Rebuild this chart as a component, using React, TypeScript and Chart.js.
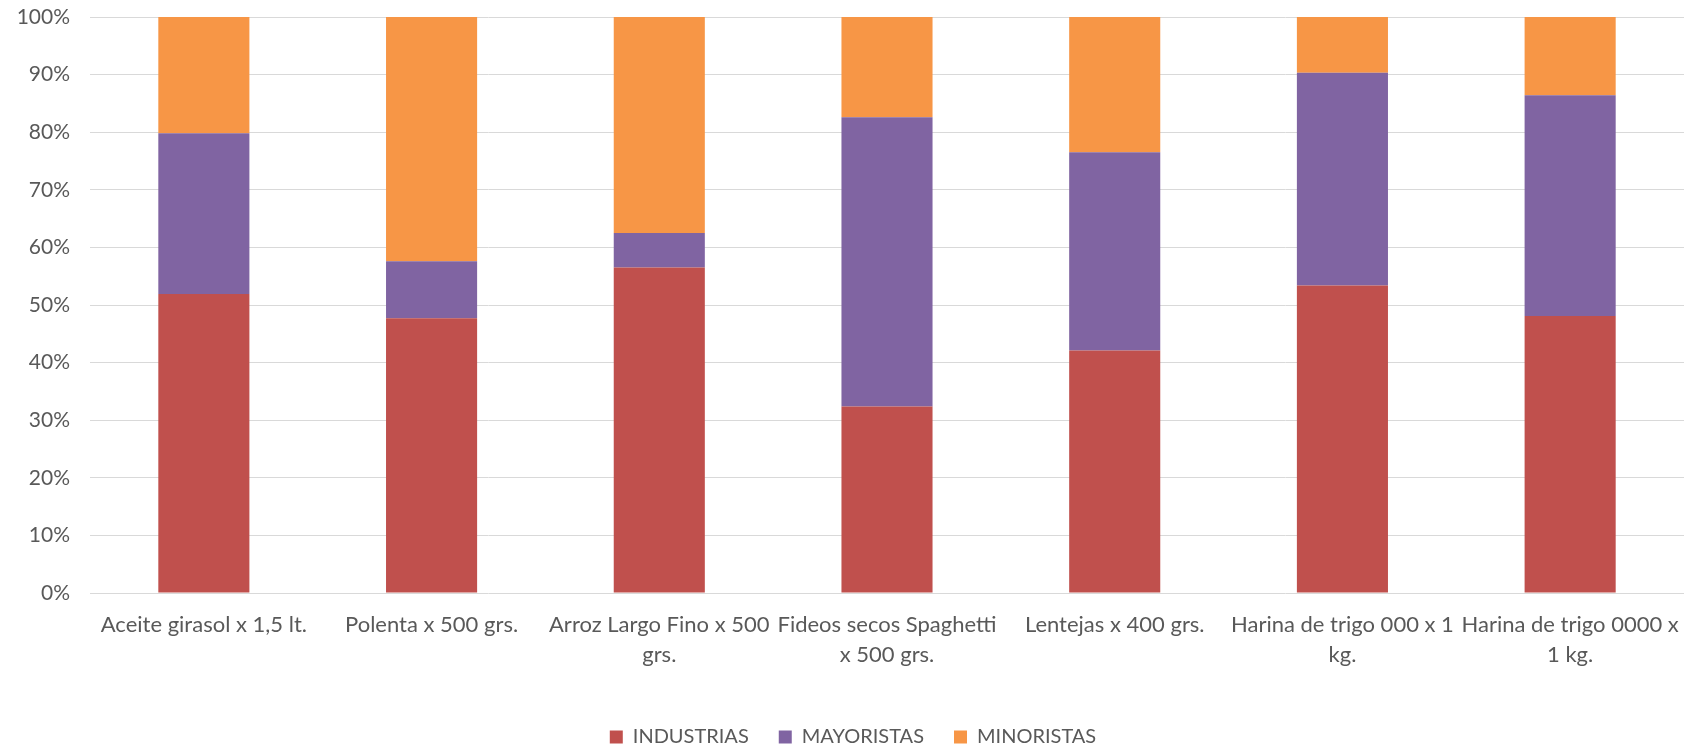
import React, { useEffect, useRef } from "react";
import { Chart, registerables } from "chart.js";

Chart.register(...registerables);

const categories: (string | string[])[] = [
  "Aceite girasol x 1,5 lt.",
  "Polenta x 500 grs.",
  ["Arroz Largo Fino x 500", "grs."],
  ["Fideos secos Spaghetti", "x 500 grs."],
  "Lentejas x 400 grs.",
  ["Harina de trigo 000 x 1", "kg."],
  ["Harina de trigo 0000 x", "1 kg."],
];

const industrias = [51.9, 47.7, 56.5, 32.4, 42.1, 53.4, 48.1];
const mayoristas = [27.9, 9.9, 6.0, 50.2, 34.4, 36.9, 38.3];
const minoristas = [20.2, 42.4, 37.5, 17.4, 23.5, 9.7, 13.6];

const seriesNames = ["INDUSTRIAS", "MAYORISTAS", "MINORISTAS"];
const seriesColors = ["#C0504D", "#8064A2", "#F79646"];

const FONT = "Lato, 'Open Sans', sans-serif";
const LEGEND_H = 52;

const layoutTweaks = {
  id: "layoutTweaks",
  beforeLayout(chart: any) {
    const lg = chart.legend;
    if (lg && !lg.__patched) {
      const orig = lg.fit.bind(lg);
      lg.fit = function () {
        orig();
        this.height = LEGEND_H;
      };
      lg.__patched = true;
    }
  },
  afterLayout(chart: any) {
    const lg = chart.legend;
    if (lg) {
      lg.left += 22;
    }
  },
};

export default function App() {
  const ref = useRef<HTMLCanvasElement | null>(null);

  useEffect(() => {
    if (!ref.current) return;
    const chart = new Chart(ref.current, {
      type: "bar",
      data: {
        labels: categories,
        datasets: [industrias, mayoristas, minoristas].map((d, i) => ({
          label: seriesNames[i],
          data: d,
          backgroundColor: seriesColors[i],
          borderWidth: 0,
          barPercentage: 0.4,
          categoryPercentage: 1,
        })),
      },
      options: {
        animation: false,
        responsive: false,
        maintainAspectRatio: false,
        layout: { padding: { top: 17, right: 13, left: 0, bottom: 0 } },
        plugins: {
          tooltip: { enabled: false },
          legend: {
            position: "bottom",
            labels: {
              boxWidth: 13,
              boxHeight: 13,
              padding: 30,
              color: "#595959",
              font: { family: FONT, size: 20 },
            },
          },
        },
        scales: {
          x: {
            stacked: true,
            grid: { display: false, drawTicks: false },
            border: { display: false },
            ticks: {
              color: "#595959",
              font: { family: FONT, size: 22, lineHeight: 1.36 },
              padding: 17,
              maxRotation: 0,
              autoSkip: false,
            },
            afterFit: (s: any) => {
              s.height = 749 - LEGEND_H - 593;
              s.paddingTop = 0;
              s.paddingBottom = 0;
            },
          },
          y: {
            stacked: true,
            min: 0,
            max: 100,
            grid: { color: "#D9D9D9", lineWidth: 1, drawTicks: false },
            border: { display: false },
            ticks: {
              stepSize: 10,
              color: "#595959",
              font: { family: FONT, size: 21 },
              padding: 20,
              callback: (v: any) => v + "%",
            },
            afterFit: (s: any) => {
              s.width = 90;
              s.paddingTop = 0;
              s.paddingBottom = 0;
            },
          },
        },
      },
      plugins: [layoutTweaks],
    });
    return () => chart.destroy();
  }, []);

  return (
    <div style={{ position: "absolute", left: 0, top: 0, width: 1697, height: 749, background: "#fff" }}>
      <canvas ref={ref} width={1697} height={749} style={{ display: "block" }} />
    </div>
  );
}
